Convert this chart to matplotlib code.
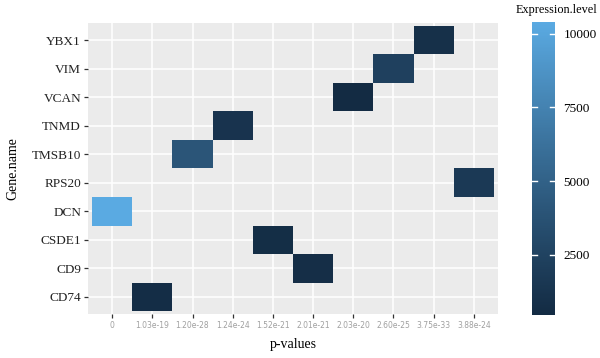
import numpy as np
import matplotlib
matplotlib.use("Agg")
import matplotlib.pyplot as plt
from matplotlib.colors import ListedColormap, Normalize

# ---- data ----
genes = ["CD74", "CD9", "CSDE1", "DCN", "RPS20", "TMSB10", "TNMD", "VCAN", "VIM", "YBX1"]
pvalues = ["0", "1.03e-19", "1.20e-28", "1.24e-24", "1.52e-21",
           "2.01e-21", "2.03e-20", "2.60e-25", "3.75e-33", "3.88e-24"]
gene_pvalue = ["1.03e-19", "2.01e-21", "1.52e-21", "0", "3.88e-24",
               "1.20e-28", "1.24e-24", "2.03e-20", "2.60e-25", "3.75e-33"]
expression = [650, 750, 700, 10400, 1700, 4000, 1200, 450, 2300, 900]
cbar_ticks = [2500, 5000, 7500, 10000]


# ---- ggplot-like Lab gradient #132B43 -> light blue ----
def hex2rgb(h):
    return np.array([int(h[i:i + 2], 16) / 255 for i in (1, 3, 5)])

def rgb2lab(c):
    c = np.where(c > 0.04045, ((c + 0.055) / 1.055) ** 2.4, c / 12.92)
    M = np.array([[0.4124, 0.3576, 0.1805], [0.2126, 0.7152, 0.0722], [0.0193, 0.1192, 0.9505]])
    xyz = M @ c / np.array([0.95047, 1.0, 1.08883])
    f = np.where(xyz > 0.008856, np.cbrt(xyz), 7.787 * xyz + 16 / 116)
    return np.array([116 * f[1] - 16, 500 * (f[0] - f[1]), 200 * (f[1] - f[2])])

def lab2rgb(lab):
    fy = (lab[0] + 16) / 116
    fx = fy + lab[1] / 500
    fz = fy - lab[2] / 200
    f = np.array([fx, fy, fz])
    xyz = np.where(f ** 3 > 0.008856, f ** 3, (f - 16 / 116) / 7.787) * np.array([0.95047, 1.0, 1.08883])
    Mi = np.array([[3.2406, -1.5372, -0.4986], [-0.9689, 1.8758, 0.0415], [0.0557, -0.2040, 1.0570]])
    c = Mi @ xyz
    c = np.where(c > 0.0031308, 1.055 * np.clip(c, 0, None) ** (1 / 2.4) - 0.055, 12.92 * c)
    return np.clip(c, 0, 1)

lo, hi = rgb2lab(hex2rgb("#132B43")), rgb2lab(hex2rgb("#5AAAE2"))
cmap = ListedColormap([lab2rgb(lo + t * (hi - lo)) for t in np.linspace(0, 1, 256)])
norm = Normalize(vmin=min(expression), vmax=max(expression))

# ---- figure ----
W, H = 600, 358
fig = plt.figure(figsize=(W / 100, H / 100), dpi=100)
ax = fig.add_axes([88 / W, 1 - 314 / H, (498 - 88) / W, (314 - 23) / H])
ax.set_facecolor("#EBEBEB")

nx, ny = len(pvalues), len(genes)
Z = np.full((ny, nx), np.nan)
for gi, (p, v) in enumerate(zip(gene_pvalue, expression)):
    Z[gi, pvalues.index(p)] = v
ax.pcolormesh(np.arange(nx + 1) - 0.5, np.arange(ny + 1) - 0.5, np.ma.masked_invalid(Z),
              cmap=cmap, norm=norm, zorder=2)

ax.set_xlim(-0.6, nx - 0.4)
ax.set_ylim(-0.6, ny - 0.4)
ax.set_xticks(range(nx))
ax.set_xticklabels(pvalues, fontsize=5.5, color="#A0A0A0", family="DejaVu Sans")
ax.set_yticks(range(ny))
ax.set_yticklabels(genes, fontsize=9.5, family="Liberation Serif", color="#222222")
ax.grid(True, color="white", linewidth=1.1, zorder=1)
ax.set_axisbelow(True)
for s in ax.spines.values():
    s.set_visible(False)
ax.tick_params(axis="both", length=3, width=0.9, color="#333333", pad=2)

ax.set_xlabel("p-values", family="Liberation Serif", fontsize=10, labelpad=6)
ax.set_ylabel("Gene.name", family="Liberation Serif", fontsize=10, labelpad=9)

# ---- colorbar ----
cax = fig.add_axes([532 / W, 1 - 315 / H, 23 / W, (315 - 22) / H])
sm = plt.cm.ScalarMappable(cmap=cmap, norm=norm)
cb = fig.colorbar(sm, cax=cax)
cb.outline.set_visible(False)
cb.set_ticks(cbar_ticks)
cb.ax.tick_params(length=0, pad=6, labelsize=9.5)
for lab in cb.ax.get_yticklabels():
    lab.set_family("Liberation Serif")
for t in cbar_ticks:
    cax.plot([0, 0.2], [t, t], color="white", lw=1, transform=cax.get_yaxis_transform())
    cax.plot([0.8, 1], [t, t], color="white", lw=1, transform=cax.get_yaxis_transform())
fig.text(597 / W, 1 - 10 / H, "Expression.level", family="Liberation Serif", fontsize=8.8,
         va="center", ha="right")

fig.savefig("out.png", dpi=100, facecolor="white")
